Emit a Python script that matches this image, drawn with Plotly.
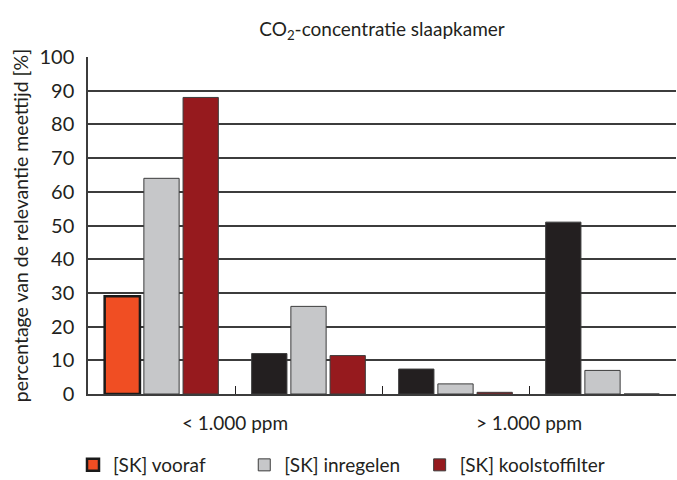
import plotly.graph_objects as go

# Four measurement slots, two per concentration class
slots = [0, 1, 2, 3]
class_labels = ["< 1.000 ppm", "", "> 1.000 ppm", ""]

# Percentage of relevant measuring time per series
vooraf = [29, 12, 7.4, 51]
inregelen = [64, 26, 3, 7]
koolstoffilter = [88, 11.4, 0.5, 0]

series_names = ["[SK] vooraf", "[SK] inregelen", "[SK] koolstoffilter"]

ORANGE = "#F04E23"
GREY = "#C6C7C9"
RED = "#961A1E"
BLACK = "#231F20"
EDGE = "#3C3C3C"

NBSP = "\u00a0"
# extra spacing after the first two legend entries
pads = [NBSP * 7, NBSP * 3, ""]

fig = go.Figure()

fig.add_trace(go.Bar(
    x=slots, y=vooraf, name=series_names[0] + pads[0],
    marker=dict(color=[ORANGE, BLACK, BLACK, BLACK],
                line=dict(color=["#1A1A1A", EDGE, EDGE, EDGE], width=[2.5, 1, 1, 1])),
))
fig.add_trace(go.Bar(
    x=slots, y=inregelen, name=series_names[1] + pads[1],
    marker=dict(color=GREY, line=dict(color=EDGE, width=1)),
))
fig.add_trace(go.Bar(
    x=slots, y=koolstoffilter, name=series_names[2] + pads[2],
    marker=dict(color=RED, line=dict(color=EDGE, width=1)),
))

FONT = "Lato, Open Sans, sans-serif"

fig.update_layout(
    width=677, height=480,
    margin=dict(l=88, r=1, t=57, b=86),
    paper_bgcolor="white", plot_bgcolor="white",
    barmode="group", bargap=0.2, bargroupgap=0.1,
    font=dict(family=FONT, size=19, color="#231F20"),
    title=dict(text="CO<sub>2</sub>-concentratie slaapkamer",
               x=0.5, xref="paper", xanchor="center",
               y=1 - 29 / 480, yref="container", yanchor="middle",
               font=dict(family=FONT, size=19, color="#231F20")),
    showlegend=True,
    legend=dict(orientation="h", x=73 / 677, xref="container", xanchor="left",
                y=15 / 480, yref="container", yanchor="middle",
                font=dict(family=FONT, size=19),
                traceorder="normal"),
    xaxis=dict(range=[-0.5, 3.5], tickmode="array",
               tickvals=[0.5, 1.5, 2.5, 3.5], ticktext=class_labels,
               ticks="inside", ticklen=8, tickwidth=1.2, tickcolor="#231F20",
               showline=True, linecolor="#3C3C3C", linewidth=1.5,
               showgrid=False, zeroline=False, ticklabelstandoff=11,
               tickfont=dict(family=FONT, size=19)),
    yaxis=dict(range=[0, 100], dtick=10, showgrid=True,
               gridcolor="#3C3C3C", gridwidth=1.5,
               showline=True, linecolor="#3C3C3C", linewidth=1.5,
               zeroline=False, ticks="", ticklabelstandoff=8,
               tickfont=dict(family=FONT, size=20),
               title=dict(text="percentage van de relevantie meettijd [%]",
                          font=dict(family=FONT, size=19.5), standoff=6)),
)

fig.write_html("out.html")
